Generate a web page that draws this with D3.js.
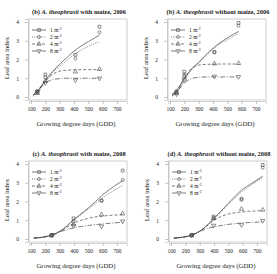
<!DOCTYPE html>
<html>
<head>
<meta charset="utf-8">
<script src="https://cdn.jsdelivr.net/npm/d3@7"></script>
<style>
  body { margin: 0; background: #fff; }
  svg text { font-family: "Liberation Serif", "Times New Roman", serif !important; fill: #222; }
</style>
</head>
<body>
<div id="chart"></div>
<script>
// Valeurs
const densities = ["1", "2", "4", "8"];
const titles = [
    ["(b) ", "A. theophrasti", " with maize, 2006"],
    ["(b) ", "A. theophrasti", " without maize, 2006"],
    ["(c) ", "A. theophrasti", " with maize, 2008"],
    ["(d) ", "A. theophrasti", " without maize, 2008"]
];
const xTicks = [100, 200, 300, 400, 500, 600, 700];
const yTicks = [0, 1, 2, 3, 4];

// Points observés : GDD et valeurs [1, 2, 4, 8 plantes m-2]
const obsGdd2006 = [145, 200, 410, 578];
const obsGdd2008 = [245, 397, 592, 740];
const obsA = [[0.3, 1.2, 2.25, 3.75], [0.25, 1.05, 2.05, 3.45], [0.2, 0.85, 1.35, 1.48], [0.3, 0.75, 0.9, 1.0]];
const obsB = [[0.3, 1.35, 2.4, 3.95], [0.25, 1.2, 2.38, 3.8], [0.2, 1.1, 1.78, 1.8], [0.15, 0.9, 1.1, 1.08]];
const obsC = [[0.22, 1.1, 2.05, 3.65], [0.2, 0.95, 2.05, 3.15], [0.18, 0.78, 1.3, 1.35], [0.2, 0.7, 0.68, 0.95]];
const obsD = [[0.22, 1.2, 2.1, 3.95], [0.2, 1.1, 2.15, 3.8], [0.18, 1.1, 1.6, 1.55], [0.2, 0.72, 0.75, 0.98]];

// Courbes ajustées
const fitGdd2006 = [115, 150, 200, 250, 300, 350, 400, 450, 500, 578];
const fitGdd2008 = [120, 200, 250, 300, 350, 400, 450, 500, 550, 600, 650, 700, 740];
const fitA = [
    [0.1, 0.35, 0.9, 1.35, 1.75, 2.1, 2.45, 2.72, 2.95, 3.3],
    [0.05, 0.25, 0.8, 1.3, 1.65, 1.95, 2.25, 2.5, 2.7, 2.95],
    [0.1, 0.35, 0.85, 1.2, 1.38, 1.43, 1.45, 1.46, 1.46, 1.46],
    [0.1, 0.4, 0.75, 0.92, 0.98, 1.0, 1.0, 1.0, 1.0, 1.0]
];
const fitB = [
    [0.15, 0.4, 1.0, 1.5, 1.85, 2.25, 2.6, 2.9, 3.15, 3.5],
    [0.1, 0.3, 0.9, 1.45, 1.8, 2.2, 2.55, 2.85, 3.05, 3.4],
    [0.1, 0.35, 0.95, 1.5, 1.7, 1.74, 1.75, 1.76, 1.76, 1.76],
    [0.05, 0.3, 0.75, 0.98, 1.05, 1.07, 1.07, 1.07, 1.07, 1.07]
];
const fitC = [
    [0.05, 0.12, 0.22, 0.4, 0.7, 1.05, 1.35, 1.65, 2.0, 2.35, 2.65, 2.92, 3.1],
    [0.05, 0.12, 0.22, 0.4, 0.68, 1.0, 1.3, 1.6, 1.9, 2.2, 2.45, 2.68, 2.85],
    [0.05, 0.12, 0.22, 0.4, 0.62, 0.85, 1.0, 1.1, 1.18, 1.22, 1.26, 1.28, 1.3],
    [0.05, 0.12, 0.22, 0.38, 0.5, 0.6, 0.67, 0.72, 0.77, 0.8, 0.84, 0.87, 0.9]
];
const fitD = [
    [0.05, 0.12, 0.22, 0.42, 0.72, 1.1, 1.5, 1.9, 2.3, 2.65, 2.9, 3.15, 3.35],
    [0.05, 0.12, 0.22, 0.42, 0.7, 1.07, 1.45, 1.85, 2.22, 2.55, 2.82, 3.08, 3.28],
    [0.05, 0.12, 0.22, 0.42, 0.7, 1.0, 1.2, 1.33, 1.4, 1.45, 1.48, 1.5, 1.52],
    [0.05, 0.12, 0.22, 0.4, 0.55, 0.65, 0.72, 0.78, 0.82, 0.86, 0.88, 0.9, 0.92]
];

const panels = [
    { ox: 0, oy: 0, title: titles[0], obsX: obsGdd2006, obs: obsA, fitX: fitGdd2006, fit: fitA },
    { ox: 139, oy: 0, title: titles[1], obsX: obsGdd2006, obs: obsB, fitX: fitGdd2006, fit: fitB },
    { ox: 0, oy: 142, title: titles[2], obsX: obsGdd2008, obs: obsC, fitX: fitGdd2008, fit: fitC },
    { ox: 140, oy: 142, title: titles[3], obsX: obsGdd2008, obs: obsD, fitX: fitGdd2008, fit: fitD }
];

const dashes = [null, "1,1.3", "3,2", "5,1.6,1,1.6"];
const symbols = [d3.symbolSquare, d3.symbolCircle, d3.symbolTriangle, d3.symbolTriangle];
const ink = "#444";

const svg = d3.select("#chart").append("svg")
    .attr("width", 277)
    .attr("height", 274);

function drawSymbol(g, k, x, y) {
    const p = d3.symbol().type(symbols[k]).size(k === 1 ? 7 : 8);
    g.append("path")
        .attr("d", p())
        .attr("transform", `translate(${x},${y})` + (k === 3 ? " rotate(180)" : ""))
        .attr("fill", "none")
        .attr("stroke", ink)
        .attr("stroke-width", 0.6);
}

function drawPanel(p) {
    const g = svg.append("g").attr("transform", `translate(${p.ox},${p.oy})`);
    const left = 29, right = 127, top = 19, bottom = 100;

    const x = d3.scaleLinear().domain([86, 770]).range([left, right]);
    const y = d3.scaleLinear().domain([-0.16, 4.16]).range([bottom, top]);

    // Cadre
    g.append("rect")
        .attr("x", left).attr("y", top)
        .attr("width", right - left).attr("height", bottom - top)
        .attr("fill", "none").attr("stroke", "#aaa").attr("stroke-width", 0.6);

    // Axes
    const ax = g.append("g").attr("transform", `translate(0,${bottom + 1})`)
        .call(d3.axisBottom(x).tickValues(xTicks).tickSize(3).tickPadding(3).tickFormat(d3.format("d")));
    const ay = g.append("g").attr("transform", `translate(${left - 1},0)`)
        .call(d3.axisLeft(y).tickValues(yTicks).tickSize(3).tickPadding(6).tickFormat(d3.format("d")));
    [ax, ay].forEach(a => {
        a.attr("font-family", null);
        a.select(".domain").attr("stroke", "#aaa").attr("stroke-width", 0.5);
        a.selectAll(".tick line").attr("stroke", "#888").attr("stroke-width", 0.5);
        a.selectAll(".tick text").attr("font-size", "5.5px").attr("fill", "#333");
    });

    // Titre
    const t = g.append("text")
        .attr("x", 79).attr("y", 14)
        .attr("text-anchor", "middle")
        .attr("font-size", "6.4px")
        .attr("font-weight", "bold");
    t.append("tspan").text(p.title[0]);
    t.append("tspan").attr("font-style", "italic").text(p.title[1]);
    t.append("tspan").text(p.title[2]);

    // Titres des axes
    g.append("text")
        .attr("x", 76).attr("y", 126)
        .attr("text-anchor", "middle")
        .attr("font-size", "6.8px")
        .text("Growing degree days (GDD)");
    g.append("text")
        .attr("transform", "translate(9,58) rotate(-90)")
        .attr("text-anchor", "middle")
        .attr("font-size", "6.8px")
        .text("Leaf area index");

    // Courbes ajustées
    const line = d3.line()
        .x(d => x(d[0]))
        .y(d => y(d[1]))
        .curve(d3.curveMonotoneX);
    p.fit.forEach((vals, k) => {
        g.append("path")
            .datum(p.fitX.map((gdd, i) => [gdd, vals[i]]))
            .attr("d", line)
            .attr("fill", "none")
            .attr("stroke", ink)
            .attr("stroke-width", 0.7)
            .attr("stroke-dasharray", dashes[k]);
    });

    // Points observés
    p.obs.forEach((vals, k) => {
        vals.forEach((v, i) => drawSymbol(g, k, x(p.obsX[i]), y(v)));
    });

    // Légende
    densities.forEach((dens, k) => {
        const ly = 30 + k * 7;
        g.append("line")
            .attr("x1", 32).attr("x2", 46)
            .attr("y1", ly).attr("y2", ly)
            .attr("stroke", ink).attr("stroke-width", 0.7)
            .attr("stroke-dasharray", dashes[k]);
        drawSymbol(g, k, 39, ly);
        const lt = g.append("text")
            .attr("x", 50).attr("y", ly + 2)
            .attr("font-size", "5.5px");
        lt.append("tspan").text(dens + " m");
        lt.append("tspan").attr("font-size", "3.8px").attr("dy", -2.5).text("-2");
    });
}

panels.forEach(drawPanel);
</script>
</body>
</html>
